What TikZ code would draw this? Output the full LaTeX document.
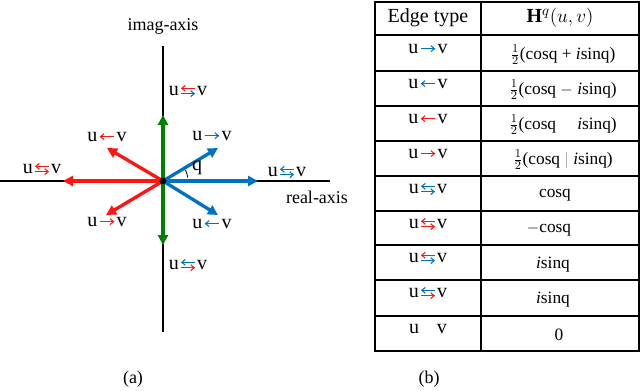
\documentclass[tikz,border=0pt]{standalone}
\usepackage{fontspec}
\usepackage{graphicx}
\setmainfont{Liberation Serif}
\usetikzlibrary{arrows.meta}
\definecolor{myred}{RGB}{255,20,20}
\definecolor{myblue}{RGB}{0,112,192}
\definecolor{mygreen}{RGB}{0,128,0}
\tikzset{smallarr/.style={line width=0.8pt, -{Straight Barb[length=2.6pt,width=4.4pt]}}}
\newcommand{\rar}[1]{\hspace{0.08em}\tikz[baseline=0pt,x=1pt,y=1pt]{%
  \path (0,0) rectangle (11,6.5);
  \draw[#1, smallarr] (0,3.6) -- (11,3.6);}\hspace{0.08em}}
\newcommand{\lar}[1]{\hspace{0.08em}\tikz[baseline=0pt,x=1pt,y=1pt]{%
  \path (0,0) rectangle (11,6.5);
  \draw[#1, smallarr] (11,3.6) -- (0,3.6);}\hspace{0.08em}}
\newcommand{\dualar}[2]{\hspace{0.08em}\tikz[baseline=0pt,x=1pt,y=1pt]{%
  \path (0,0) rectangle (10.5,6.5);
  \draw[#1, smallarr] (10.5,5.6) -- (0,5.6);
  \draw[#2, smallarr] (0,1.6) -- (10.5,1.6);}\hspace{0.08em}}
\tikzset{
  lbl/.style={inner sep=0pt, font=\fontsize{15}{18}\selectfont},
  axl/.style={inner sep=0pt, font=\fontsize{13.5}{16}\selectfont},
  tbl/.style={inner sep=0pt, font=\fontsize{13}{15}\selectfont},
  tbe/.style={inner sep=0pt, font=\fontsize{15}{18}\selectfont},
  vec/.style={line width=2.5pt, -{Triangle[length=7.5pt,width=7.5pt]}},
  gridline/.style={line width=0.8pt, black}
}
\begin{document}
\begin{tikzpicture}[x=0.75pt,y=-0.75pt]
\useasboundingbox (0,0) rectangle (640,390);
% axes
\coordinate (xl) at (0,181);
\coordinate (xr) at (330,181);
\coordinate (yt) at (163,46);
\coordinate (yb) at (163,332);
\draw[line width=0.8pt] (xl) -- (xr);
\draw[line width=1.3pt] (yt) -- (yb);
\node[circle, fill=black, inner sep=0pt, minimum size=5pt] (o) at (163,181) {};
% tips
\coordinate (tu) at (163,115);
\coordinate (td) at (163,245);
\coordinate (tr) at (258,181);
\coordinate (tl) at (63,181);
\coordinate (tur) at (218,148);
\coordinate (tul) at (107,148);
\coordinate (tdl) at (106,215);
\coordinate (tdr) at (218,215);
\draw[vec, mygreen] (o.center) -- (tu);
\draw[vec, mygreen] (o.center) -- (td);
\draw[vec, myblue] (o.center) -- (tr);
\draw[vec, myblue] (o.center) -- (tur);
\draw[vec, myblue] (o.center) -- (tdr);
\draw[vec, myred] (o.center) -- (tl);
\draw[vec, myred] (o.center) -- (tul);
\draw[vec, myred] (o.center) -- (tdl);
\node[circle, fill=black, inner sep=0pt, minimum size=5pt] at (o) {};
% angle
\draw[line width=0.6pt] ([shift={(-8:25)}]163,181) arc[start angle=-8, end angle=-26, radius=25];
\node[lbl] (q) at (197,168) {q};
% labels
\node[axl] (imag) at (163,26) {imag-axis};
\node[axl] (real) at (317,197) {real-axis};
\node[lbl] (l1) at (188,91) {u\dualar{myred}{myblue}v};
\node[lbl] (l2) at (107,137) {u\lar{myred}v};
\node[lbl] (l3) at (212,136) {u\rar{myblue}v};
\node[lbl] (l4) at (42,169) {u\dualar{myred}{myred}v};
\node[lbl] (l5) at (287,172) {u\dualar{myblue}{myblue}v};
\node[lbl] (l6) at (107,222) {u\rar{myred}v};
\node[lbl] (l7) at (212,224) {u\lar{myblue}v};
\node[lbl] (l8) at (188,265) {u\dualar{myblue}{myred}v};
\node[axl] (capa) at (133,379) {(a)};
\node[axl] (capb) at (429,379) {(b)};
% table
\draw[gridline] (375,2) rectangle (639,351);
\draw[gridline] (481,2) -- (481,351);
\foreach \yy in {35,71,106,141,176,211,245,280,316} {
  \draw[gridline] (375,\yy) -- (639,\yy);
}
\node[tbe] (h1) at (428,18) {Edge type};
\node[tbe] (h2) at (560,18) {$\mathbf{H}^{q}(u,v)$};
\node[tbe] (e1) at (428,49) {u\rar{myblue}v};
\node[tbl] (f1) at (563,55) {$\frac{1}{2}$(cosq + \textit{i}sinq)};
\node[tbe] (e2) at (428,84) {u\lar{myblue}v};
\node[tbl] (f2) at (563,90) {$\frac{1}{2}$(cosq $-$ \textit{i}sinq)};
\node[tbe] (e3) at (428,119) {u\lar{myred}v};
\node[tbl] (f3) at (563,125) {$\frac{1}{2}$(cosq \phantom{$-$} \textit{i}sinq)};
\node[tbe] (e4) at (428,154) {u\rar{myred}v};
\node[tbl] (f4) at (563,160) {$\frac{1}{2}$(cosq \textcolor{gray}{$|$} \textit{i}sinq)};
\node[tbe] (e5) at (428,189) {u\dualar{myblue}{myblue}v};
\node[tbl] (f5) at (555,195) {cosq};
\node[tbe] (e6) at (428,224) {u\dualar{myred}{myred}v};
\node[tbl] (f6) at (549,230) {$-$cosq};
\node[tbe] (e7) at (428,258) {u\dualar{myred}{myblue}v};
\node[tbl] (f7) at (553,265) {\textit{i}sinq};
\node[tbe] (e8) at (428,293) {u\dualar{myblue}{myred}v};
\node[tbl] (f8) at (553,300) {\textit{i}sinq};
\node[tbe] (e9) at (428,329) {u\hspace{0.08em}\phantom{\rule{11pt}{1pt}}\hspace{0.08em}v};
\node[tbl] (f9) at (559,335) {0};
\end{tikzpicture}
\end{document}
